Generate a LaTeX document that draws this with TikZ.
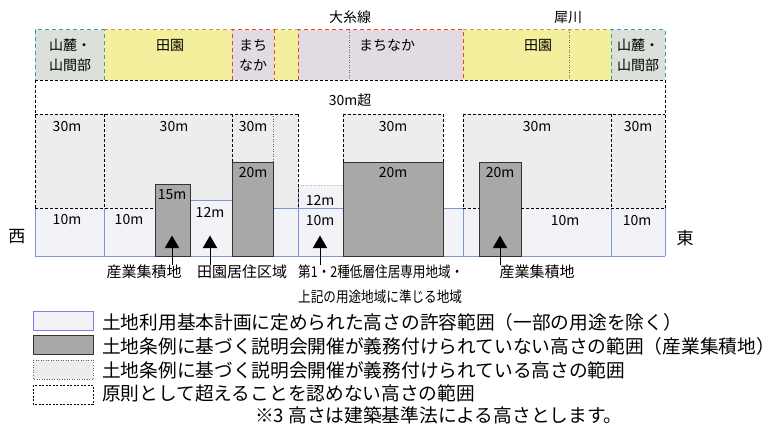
\documentclass[tikz,border=0pt]{standalone}
\usepackage{fontspec}
\setmainfont{Noto Sans CJK JP}
\newfontfamily\condjp[FakeStretch=0.84]{Noto Sans CJK JP}
\usetikzlibrary{shapes.geometric}
\definecolor{mtn}{HTML}{DCE0DA}
\definecolor{mtnb}{HTML}{3A9DB5}
\definecolor{den}{HTML}{F4EF9C}
\definecolor{denb}{HTML}{B5A93A}
\definecolor{machi}{HTML}{E3DBE3}
\definecolor{machib}{HTML}{E8452C}
\definecolor{dotf}{HTML}{EDEDED}
\definecolor{tenf}{HTML}{F2F3F6}
\definecolor{tenb}{HTML}{7E94DA}
\definecolor{boxf}{HTML}{A8A8A8}
\tikzset{
  dsh/.style={draw=black, line width=0.7pt, dash pattern=on 3pt off 2pt},
  dts/.style={draw=black!60, line width=0.5pt, dotted},
  bandb/.style={line width=1pt, dash pattern=on 4pt off 3pt},
  graybox/.style={fill=boxf, draw=black!80, line width=0.8pt},
  tenline/.style={draw=tenb, line width=0.6pt},
  lbl/.style={font=\fontsize{14}{20}\selectfont, inner sep=0pt},
  hlbl/.style={font=\fontsize{14}{20}\selectfont, inner sep=0pt},
  blbl/.style={font=\fontsize{15}{25}\selectfont, inner sep=0pt},
  leg/.style={font=\fontsize{18.7}{20}\selectfont, inner sep=0pt, anchor=west},
  tri/.style={regular polygon, regular polygon sides=3, fill=black, inner sep=0pt, minimum size=17pt},
}
\begin{document}
\begin{tikzpicture}[x=1pt,y=-1pt]
\useasboundingbox (0,0) rectangle (774,430);
% ---------- top band ----------
\fill[mtn] (35,30) rectangle (104,80);
\fill[den] (104,30) rectangle (232,80);
\fill[machi] (232,30) rectangle (274,80);
\fill[den] (274,30) rectangle (298,80);
\fill[machi] (298,30) rectangle (463,80);
\fill[den] (463,30) rectangle (611,80);
\fill[mtn] (611,30) rectangle (665,80);
\draw[bandb, denb] (104,30) -- (232,30) (274,30) -- (298,30) (463,30) -- (611,30);
\draw[bandb, mtnb] (104,80) -- (104,30) -- (35,30) -- (35,80);
\draw[bandb, mtnb] (611,80) -- (611,30) -- (665,30) -- (665,80);
\draw[bandb, machib] (232,80) -- (232,30) -- (274,30) -- (274,80);
\draw[bandb, machib] (298,80) -- (298,30) -- (463,30) -- (463,80);
\draw[dts] (349,30) -- (349,80) (569,30) -- (569,80);
\draw[dsh] (35,80) -- (665,80);
\node[hlbl, align=center] (m1) at (70,55) {山麓・\\山間部};
\node[hlbl] (d1) at (170,45) {田園};
\node[hlbl, align=left] (c1) at (253,55) {まち\\なか};
\node[hlbl] (c2) at (387,45) {まちなか};
\node[hlbl] (d2) at (538,45) {田園};
\node[hlbl, align=center] (m2) at (638,55) {山麓・\\山間部};
\node[hlbl] (rail) at (350,17) {大糸線};
\node[hlbl] (river) at (568,18) {犀川};
\node[hlbl] (over) at (350,100) {30m超};
% ---------- middle fills ----------
\fill[dotf] (35,114) rectangle (298,208);
\fill[dotf] (343,114) rectangle (443,162);
\fill[dotf] (463,114) rectangle (665,208);
\fill[tenf] (35,208) rectangle (155,256);
\fill[tenf] (190,200) rectangle (232,256);
\fill[tenf] (273,208) rectangle (298,256);
\fill[tenf] (298,185) rectangle (343,256);
\fill[tenf] (443,208) rectangle (479,256);
\fill[tenf] (521,208) rectangle (665,256);
% blue lines
\draw[tenline] (35,256) -- (665,256);
\draw[tenline] (104,208) -- (104,256);
\draw[tenline] (190,200) -- (232,200) -- (232,256);
\draw[tenline] (273,208) -- (343,208);
\draw[tenline] (298,208) -- (298,256) (343,185) -- (343,256);
\draw[tenline, draw=magenta!40, dotted] (298,185) -- (343,185);
\draw[tenline] (298,185) -- (298,208);
\draw[tenline] (443,208) -- (463,208) (443,162) -- (443,256) (463,208) -- (463,256);
\draw[tenline] (611,208) -- (611,256) (665,208) -- (665,256) (35,208) -- (35,256);
% gray boxes
\draw[graybox] (155,184) rectangle (190,256);
\draw[graybox] (232,162) rectangle (273,256);
\draw[graybox] (343,162) rectangle (443,256);
\draw[graybox] (479,162) rectangle (521,256);
% dashed limits
\draw[dsh] (35,80) -- (35,208) (665,80) -- (665,208);
\draw[dsh] (35,114) -- (298,114) (343,114) -- (443,114) (463,114) -- (665,114);
\draw[dsh] (104,114) -- (104,208) (232,114) -- (232,162) (298,114) -- (298,208);
\draw[dsh] (343,114) -- (343,162) (443,114) -- (443,162);
\draw[dsh] (463,114) -- (463,208) (611,114) -- (611,208);
\draw[dsh] (35,208) -- (155,208) (463,208) -- (479,208) (521,208) -- (665,208);
\draw[dts] (273,114) -- (273,162);
% height labels
\node[lbl] (h1) at (67,127) {30m};
\node[lbl] (h2) at (174,127) {30m};
\node[lbl] (h3) at (253,127) {30m};
\node[lbl] (h4) at (393,127) {30m};
\node[lbl] (h5) at (537,127) {30m};
\node[lbl] (h6) at (638,127) {30m};
\node[lbl] (g1) at (172,195) {15m};
\node[lbl] (g2) at (253,173) {20m};
\node[lbl] (g3) at (393,173) {20m};
\node[lbl] (g4) at (500,173) {20m};
\node[lbl] (k1) at (210,212) {12m};
\node[lbl] (k2) at (320,200) {12m};
\node[lbl] (t1) at (67,220) {10m};
\node[lbl] (t2) at (129,220) {10m};
\node[lbl] (t3) at (320,221) {10m};
\node[lbl] (t4) at (565,221) {10m};
\node[lbl] (t5) at (637,221) {10m};
\node[font=\fontsize{17}{20}\selectfont, inner sep=0pt] (west) at (17,237) {西};
\node[font=\fontsize{17}{20}\selectfont, inner sep=0pt] (east) at (685,238) {東};
% triangles and leaders
\node[tri] (a1) at (172,244) {};
\node[tri] (a2) at (210,244) {};
\node[tri] (a3) at (320,244) {};
\node[tri] (a4) at (500,244) {};
\node[blbl, anchor=north] (l1) at (144,265) {産業集積地};
\node[blbl, anchor=north] (l2) at (242,265) {田園居住区域};
\node[blbl, anchor=north west, align=left, font=\condjp\fontsize{15}{25}\selectfont] (l3) at (298,265) {第1・2種低層住居専用地域・\\上記の用途地域に準じる地域};
\node[blbl, anchor=north] (l4) at (537,265) {産業集積地};
\draw[black, line width=0.6pt] (a1.south) -- (a1.south |- l1.north);
\draw[black, line width=0.6pt] (a2.south) -- (a2.south |- l2.north);
\draw[black, line width=0.6pt] (a3.south) -- (a3.south |- l3.north);
\draw[black, line width=0.6pt] (a4.south) -- (a4.south |- l4.north);
% ---------- legend ----------
\draw[fill=tenf, draw=tenb!80!magenta, line width=0.6pt] (33,311) rectangle (93,330);
\draw[graybox] (33,335) rectangle (93,354);
\draw[dts, fill=dotf] (33,360) rectangle (93,379);
\draw[dsh, line width=0.5pt, dash pattern=on 2pt off 1.5pt, fill=white] (33,385) rectangle (93,404);
\node[leg] (e1) at (102,322) {土地利用基本計画に定められた高さの許容範囲（一部の用途を除く）};
\node[leg] (e2) at (102,346) {土地条例に基づく説明会開催が義務付けられていない高さの範囲（産業集積地）};
\node[leg] (e3) at (102,370) {土地条例に基づく説明会開催が義務付けられている高さの範囲};
\node[leg] (e4) at (102,393) {原則として超えることを認めない高さの範囲};
\node[leg] (e5) at (255,415) {※3 高さは建築基準法による高さとします。};
\end{tikzpicture}
\end{document}
